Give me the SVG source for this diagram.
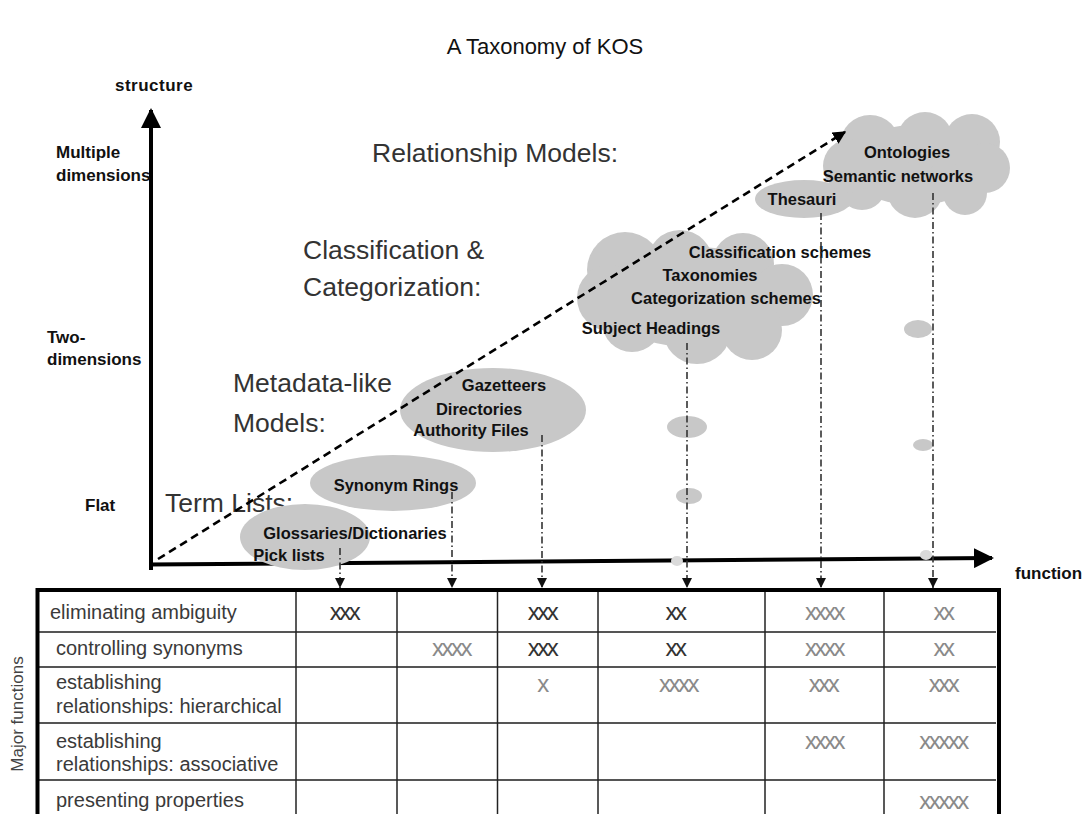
<svg xmlns="http://www.w3.org/2000/svg" width="1090" height="814" viewBox="0 0 1090 814">
<style>
.title{font-family:"Liberation Sans",Arial,sans-serif;font-size:22px;fill:#111}
.ax{font-family:"Liberation Sans",Arial,sans-serif;font-size:17px;font-weight:bold;fill:#111}
.big{font-family:"Liberation Sans",Arial,sans-serif;font-size:26.5px;fill:#333}
.nl{font-family:"Liberation Sans",Arial,sans-serif;font-size:16.5px;font-weight:bold;fill:#111;text-anchor:middle}
.blob{fill:#c8c8c8}
.faint{fill:#dadada}
.row{font-family:"Liberation Sans",Arial,sans-serif;font-size:20px;fill:#3a3a3a}
.xl{font-family:"Liberation Sans",Arial,sans-serif;font-size:24px;fill:#8a8a8a;text-anchor:middle;letter-spacing:-2.5px}
.xd{font-family:"Liberation Sans",Arial,sans-serif;font-size:24px;fill:#333;text-anchor:middle;letter-spacing:-2.5px}
.dd{stroke:#333;stroke-width:1.6;fill:none;stroke-dasharray:7 3 1.5 3}
.grid{stroke:#222;stroke-width:1.5}
.hgrid{stroke:#555;stroke-width:2}
</style>
<defs>
<marker id="tri" viewBox="0 0 10 10" refX="10" refY="5" markerWidth="10" markerHeight="10" markerUnits="userSpaceOnUse" orient="auto">
<path d="M0,0 L10,5 L0,10 z" fill="#111"/>
</marker>
<marker id="big" viewBox="0 0 10 10" refX="9" refY="5" markerWidth="5" markerHeight="5" orient="auto">
<path d="M0,0 L10,5 L0,10 z" fill="#000"/>
</marker>
</defs>
<rect width="1090" height="814" fill="#fff"/>

<text class="title" x="545" y="54" text-anchor="middle">A Taxonomy of KOS</text>

<g id="axes">
<line x1="151" y1="570" x2="151" y2="110" stroke="#000" stroke-width="4" marker-end="url(#big)"/>
<line x1="149" y1="564.5" x2="992" y2="558" stroke="#000" stroke-width="4" marker-end="url(#big)"/>
<text class="ax" x="115" y="91" letter-spacing="0.5">structure</text>
<text class="ax" x="56" y="158">Multiple</text>
<text class="ax" x="56" y="181">dimensions</text>
<text class="ax" x="47" y="343">Two-</text>
<text class="ax" x="47" y="365">dimensions</text>
<text class="ax" x="85" y="511">Flat</text>
<text class="ax" x="1015" y="579">function</text>
</g>

<g id="category-labels">
<text class="big" x="372" y="162">Relationship Models:</text>
<text class="big" x="303" y="259">Classification &amp;</text>
<text class="big" x="303" y="296">Categorization:</text>
<text class="big" x="233" y="392">Metadata-like</text>
<text class="big" x="233" y="432">Models:</text>
<text class="big" x="165" y="512">Term Lists:</text>
</g>

<g id="decor">
<ellipse class="blob" cx="687" cy="427" rx="20" ry="11"/>
<ellipse class="blob" cx="689" cy="496" rx="13" ry="8"/>
<ellipse class="blob" cx="918" cy="329" rx="14" ry="9"/>
<ellipse class="blob" cx="923" cy="445" rx="10" ry="6"/>
<ellipse class="faint" cx="677" cy="561" rx="6" ry="5"/>
<ellipse class="faint" cx="926" cy="555" rx="6" ry="5"/>
</g>

<g id="node-glossaries">
<ellipse class="blob" cx="305" cy="537" rx="65" ry="33"/>
<text class="nl" x="355" y="539">Glossaries/Dictionaries</text>
<text class="nl" x="289" y="561">Pick lists</text>
</g>

<g id="node-synonym-rings">
<ellipse class="blob" cx="393" cy="483" rx="83" ry="28"/>
<text class="nl" x="396" y="491">Synonym Rings</text>
</g>

<g id="node-metadata">
<ellipse class="blob" cx="493" cy="410" rx="93" ry="42"/>
<text class="nl" x="504" y="391">Gazetteers</text>
<text class="nl" x="479" y="415">Directories</text>
<text class="nl" x="471" y="436">Authority Files</text>
</g>

<g id="node-classification">
<g class="blob">
<ellipse cx="695" cy="297" rx="100" ry="50"/>
<circle cx="625" cy="270" r="38"/>
<circle cx="680" cy="263" r="33"/>
<circle cx="743" cy="264" r="31"/>
<circle cx="782" cy="295" r="31"/>
<circle cx="752" cy="330" r="30"/>
<circle cx="697" cy="330" r="34"/>
<circle cx="632" cy="322" r="30"/>
<circle cx="610" cy="298" r="33"/>
</g>
<text class="nl" x="780" y="258">Classification schemes</text>
<text class="nl" x="710" y="281">Taxonomies</text>
<text class="nl" x="726" y="304">Categorization schemes</text>
<text class="nl" x="651" y="334">Subject Headings</text>
</g>

<g id="node-thesauri">
<ellipse class="blob" cx="804" cy="199" rx="49" ry="19"/>
<text class="nl" x="802" y="205">Thesauri</text>
</g>

<g id="node-ontologies">
<g class="blob">
<ellipse cx="915" cy="165" rx="70" ry="40"/>
<circle cx="870" cy="145" r="30"/>
<circle cx="925" cy="140" r="28"/>
<circle cx="972" cy="142" r="28"/>
<circle cx="985" cy="168" r="25"/>
<circle cx="965" cy="193" r="22"/>
<circle cx="915" cy="190" r="28"/>
<circle cx="862" cy="186" r="24"/>
<circle cx="850" cy="166" r="27"/>
</g>
<text class="nl" x="907" y="158">Ontologies</text>
<text class="nl" x="898" y="182">Semantic networks</text>
</g>

<g id="connectors">
<line x1="158" y1="559" x2="845" y2="132" stroke="#000" stroke-width="2.6" stroke-dasharray="8 5" marker-end="url(#big)"/>
<line class="dd" x1="340" y1="548" x2="340" y2="588" marker-end="url(#tri)"/>
<line class="dd" x1="452" y1="492" x2="452" y2="588" marker-end="url(#tri)"/>
<line class="dd" x1="542" y1="435" x2="542" y2="588" marker-end="url(#tri)"/>
<line class="dd" x1="687" y1="343" x2="687" y2="588" marker-end="url(#tri)"/>
<line class="dd" x1="821" y1="213" x2="821" y2="588" marker-end="url(#tri)"/>
<line class="dd" x1="933" y1="193" x2="933" y2="588" marker-end="url(#tri)"/>
</g>

<g id="table">
<line class="hgrid" x1="38" y1="632" x2="996" y2="632"/>
<line class="hgrid" x1="38" y1="667" x2="996" y2="667"/>
<line class="hgrid" x1="38" y1="723" x2="996" y2="723"/>
<line class="hgrid" x1="38" y1="780" x2="996" y2="780"/>
<line class="grid" x1="296" y1="590" x2="296" y2="814"/>
<line class="grid" x1="397" y1="590" x2="397" y2="814"/>
<line class="grid" x1="497.5" y1="590" x2="497.5" y2="814"/>
<line class="grid" x1="598" y1="590" x2="598" y2="814"/>
<line class="grid" x1="765" y1="590" x2="765" y2="814"/>
<line class="grid" x1="884" y1="590" x2="884" y2="814"/>
<line x1="36" y1="590" x2="1001" y2="590" stroke="#000" stroke-width="4"/>
<line x1="37.5" y1="588" x2="37.5" y2="814" stroke="#000" stroke-width="4"/>
<line x1="999" y1="588" x2="999" y2="814" stroke="#000" stroke-width="4"/>

<text class="row" x="50" y="619">eliminating ambiguity</text>
<text class="row" x="56" y="655">controlling synonyms</text>
<text class="row" x="56" y="689">establishing</text>
<text class="row" x="56" y="713">relationships: hierarchical</text>
<text class="row" x="56" y="748">establishing</text>
<text class="row" x="56" y="771">relationships: associative</text>
<text class="row" x="56" y="807">presenting properties</text>
<text font-family="Liberation Sans, Arial, sans-serif" font-size="17" fill="#444" text-anchor="middle" transform="translate(23,714) rotate(-90)">Major functions</text>

<text class="xd" x="344" y="620">xxx</text>
<text class="xd" x="542" y="620">xxx</text>
<text class="xd" x="675" y="620">xx</text>
<text class="xl" x="824" y="620">xxxx</text>
<text class="xl" x="943" y="620">xx</text>

<text class="xl" x="451" y="656">xxxx</text>
<text class="xd" x="542" y="656">xxx</text>
<text class="xd" x="675" y="656">xx</text>
<text class="xl" x="824" y="656">xxxx</text>
<text class="xl" x="943" y="656">xx</text>

<text class="xl" x="542" y="692">x</text>
<text class="xl" x="678" y="692">xxxx</text>
<text class="xl" x="823" y="692">xxx</text>
<text class="xl" x="943" y="692">xxx</text>

<text class="xl" x="824" y="749">xxxx</text>
<text class="xl" x="943" y="749">xxxxx</text>

<text class="xl" x="943" y="809">xxxxx</text>
</g>
</svg>
